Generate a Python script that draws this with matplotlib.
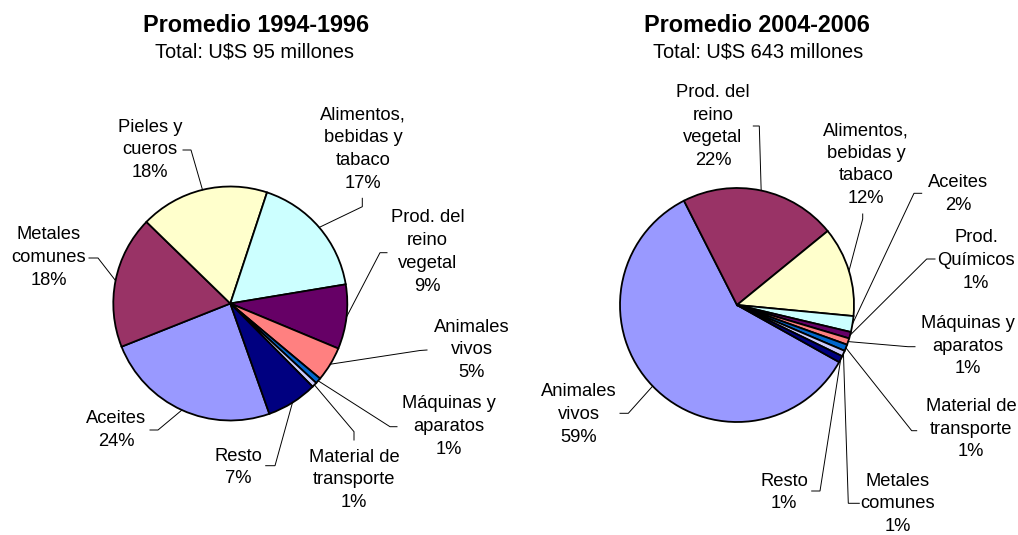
import matplotlib
matplotlib.use("Agg")
import matplotlib.pyplot as plt
import numpy as np

plt.rcParams['font.family'] = ['Liberation Sans', 'DejaVu Sans']

# ---------------- data ----------------
left_title = "Promedio 1994-1996"
left_subtitle = "Total: U$S 95 millones"
left_categories = ["Aceites", "Metales\ncomunes", "Pieles y\ncueros", "Alimentos,\nbebidas y\ntabaco",
                   "Prod. del\nreino\nvegetal", "Animales\nvivos", "Máquinas y\naparatos",
                   "Material de\ntransporte", "Resto"]
left_values = [24.4, 18.3, 17.8, 17.3, 8.9, 4.8, 0.8, 0.7, 7.0]
left_pct = [24, 18, 18, 17, 9, 5, 1, 1, 7]

right_title = "Promedio 2004-2006"
right_subtitle = "Total: U$S 643 millones"
right_categories = ["Animales\nvivos", "Prod. del\nreino\nvegetal", "Alimentos,\nbebidas y\ntabaco",
                    "Aceites", "Prod.\nQuímicos", "Máquinas y\naparatos", "Material de\ntransporte",
                    "Metales\ncomunes", "Resto"]
right_values = [59.4, 21.6, 12.4, 2.2, 0.9, 0.9, 0.9, 0.8, 0.9]
right_pct = [59, 22, 12, 2, 1, 1, 1, 1, 1]

# ---------------- style / layout ----------------
W, H = 1018, 535
palette = ["#9999FF", "#993366", "#FFFFCC", "#CCFFFF", "#660066",
           "#FF8080", "#0066CC", "#CCCCFF", "#000080"]

# label layout in pixels: text block centre, leader start, leader knee
left_layout = dict(
    center=(230.3, 303.5), radius=117, start=160.5,
    title_xy=(256, 25), sub_xy=(254.5, 52),
    text=[(116, 430), (49, 257.5), (150, 150), (363, 149), (427.5, 252),
          (472, 350), (449, 426.4), (354, 480), (238.3, 467.5)],
    lead=[((150, 430), (158, 430)), ((89, 258), (98, 258)), ((183, 150), (191, 150)),
          ((362.3, 198.3), (362.3, 206.7)), ((387, 252.7), (380, 252.7)),
          ((427, 350), (420, 350.5)), ((397, 426.7), (390, 426.7)),
          ((354, 440), (354, 431.7)), ((265.7, 465.7), (275, 465.7))],
)
right_layout = dict(
    center=(737, 305), radius=117, start=119.2,
    title_xy=(757, 25), sub_xy=(758.5, 52),
    text=[(579, 414.7), (713, 126.5), (866, 164.6), (958.3, 194.2), (976, 260.3),
          (967.5, 346.1), (971, 429), (898, 504), (784.3, 492.5)],
    lead=[((620, 413.3), (628.3, 413.3)), ((753.3, 126), (759.3, 126)),
          ((862.7, 214), (862.7, 219)), ((921.7, 193.3), (914, 193.3)),
          ((935, 259), (926.7, 259)), ((915, 346.7), (908, 346.7)),
          ((916.7, 430.7), (911.7, 430.7)), ((859.3, 503.3), (848.3, 503.3)),
          ((811.7, 491), (820, 491))],
)

fig = plt.figure(figsize=(W / 100, H / 100), dpi=100)
fig.patch.set_facecolor("white")

LABEL_FS = 13.2
TITLE_FS = 16.8
SUB_FS = 14.4


def draw_pie(values, pct, cats, title, subtitle, lay):
    cx, cy = lay["center"]
    r = lay["radius"]
    ax = fig.add_axes([(cx - r) / W, (H - cy - r) / H, 2 * r / W, 2 * r / H])
    wedges, _ = ax.pie(values, colors=palette, startangle=90 - lay["start"],
                       counterclock=False, radius=1.0,
                       wedgeprops=dict(edgecolor="black", linewidth=1.3))
    ax.set_xlim(-1, 1)
    ax.set_ylim(-1, 1)
    ax.set_aspect("equal")
    ax.axis("off")

    def px2d(p):
        return ((p[0] - cx) / r, (cy - p[1]) / r)

    for w, cat, p, tpos, (ls, lk) in zip(wedges, cats, pct, lay["text"], lay["lead"]):
        mid = np.deg2rad((w.theta1 + w.theta2) / 2)
        edge = (np.cos(mid), np.sin(mid))
        s = px2d(ls)
        k = px2d(lk)
        ax.plot([s[0], k[0], edge[0]], [s[1], k[1], edge[1]], color="black",
                lw=0.7, clip_on=False, solid_joinstyle="miter", zorder=3)
        tx, ty = px2d(tpos)
        ax.text(tx, ty, f"{cat}\n{p}%", ha="center", va="center",
                fontsize=LABEL_FS, linespacing=1.44, color="black")

    fig.text(lay["title_xy"][0] / W, 1 - lay["title_xy"][1] / H, title,
             ha="center", va="center", fontsize=TITLE_FS, fontweight="bold")
    fig.text(lay["sub_xy"][0] / W, 1 - lay["sub_xy"][1] / H, subtitle,
             ha="center", va="center", fontsize=SUB_FS)


draw_pie(left_values, left_pct, left_categories, left_title, left_subtitle, left_layout)
draw_pie(right_values, right_pct, right_categories, right_title, right_subtitle, right_layout)

fig.savefig("out.png", dpi=100, facecolor="white")
